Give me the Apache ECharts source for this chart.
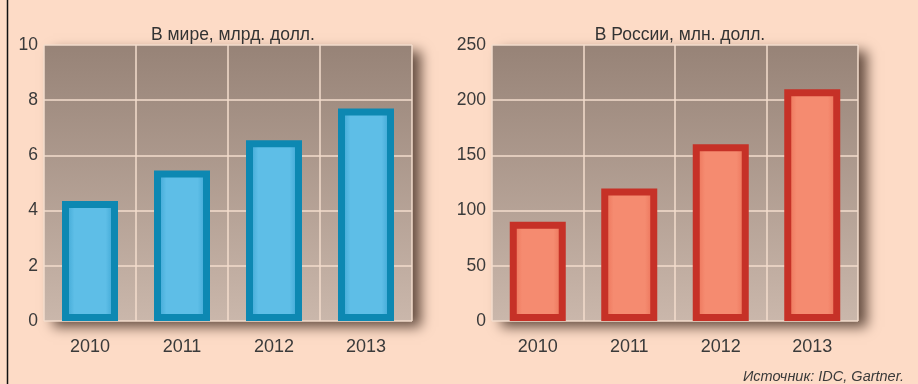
<!DOCTYPE html>
<html><head><meta charset="utf-8">
<script src="https://cdn.jsdelivr.net/npm/echarts@6/dist/echarts.min.js"></script>
<style>html,body{margin:0;padding:0;background:#fddbc6;}#c{width:918px;height:384px;}</style>
</head><body><div id="c"></div>
<script>
const years = ['2010', '2011', '2012', '2013'];
const worldValues = [4.35, 5.45, 6.55, 7.7];
const russiaValues = [90, 120, 160, 210];
const worldTicks = [0, 2, 4, 6, 8, 10];
const russiaTicks = [0, 50, 100, 150, 200, 250];
const worldTitle = 'В мире, млрд. долл.';
const russiaTitle = 'В России, млн. долл.';
const sourceText = 'Источник: IDC, Gartner.';

const chart = echarts.init(document.getElementById('c'));
const font = 'Liberation Sans';
const gridBg = new echarts.graphic.LinearGradient(0, 0, 0, 1, [
  {offset: 0, color: '#978377'}, {offset: 1, color: '#cab7ab'}]);
function grid(left, right) {
  return {left: left, right: right, top: 45, bottom: 63, show: true, borderWidth: 0,
    backgroundColor: gridBg, shadowBlur: 12, shadowColor: 'rgba(50,30,20,0.75)',
    shadowOffsetX: 9, shadowOffsetY: 6};
}
function xAxis(i) {
  return {type: 'category', gridIndex: i, data: years,
    axisLine: {show: false}, axisTick: {show: false},
    axisLabel: {color: '#3a3a3a', fontFamily: font, fontSize: 18, margin: 17},
    splitLine: {show: true, lineStyle: {color: '#f3dccd', width: 1.5}}};
}
function yAxis(i, ticks) {
  return {type: 'value', gridIndex: i, min: ticks[0], max: ticks[ticks.length - 1],
    interval: ticks[1] - ticks[0],
    axisLine: {show: false}, axisTick: {show: false},
    axisLabel: {color: '#3a3a3a', fontFamily: font, fontSize: 17.5, margin: 6},
    splitLine: {show: true, lineStyle: {color: '#f3dccd', width: 1.5}}};
}
function barFill(edge, mid) {
  return new echarts.graphic.LinearGradient(0, 0, 1, 0, [
    {offset: 0, color: edge}, {offset: 0.22, color: mid}, {offset: 0.78, color: mid}, {offset: 1, color: edge}]);
}
chart.setOption({
  backgroundColor: '#fddbc6',
  animation: false,
  title: [
    {text: worldTitle, left: 228, top: 21, textAlign: 'center',
      textStyle: {fontFamily: font, fontSize: 17.5, fontWeight: 'normal', color: '#333'}},
    {text: russiaTitle, left: 675, top: 21, textAlign: 'center',
      textStyle: {fontFamily: font, fontSize: 17.5, fontWeight: 'normal', color: '#333'}},
    {text: sourceText, right: 9, top: 364,
      textStyle: {fontFamily: font, fontSize: 14.5, fontStyle: 'italic', fontWeight: 'normal', color: '#3a3a3a'}}
  ],
  grid: [grid(44, 506), grid(492, 60)],
  xAxis: [xAxis(0), xAxis(1)],
  yAxis: [yAxis(0, worldTicks), yAxis(1, russiaTicks)],
  series: [
    {type: 'bar', xAxisIndex: 0, yAxisIndex: 0, data: worldValues, barWidth: 56,
      itemStyle: {color: barFill('#2f9ccb', '#5ebee7'), borderColor: '#0d88b2', borderWidth: 7}},
    {type: 'bar', xAxisIndex: 1, yAxisIndex: 1, data: russiaValues, barWidth: 56,
      itemStyle: {color: barFill('#e7684f', '#f58b70'), borderColor: '#c63127', borderWidth: 7}}
  ],
  graphic: [
    {type: 'line', shape: {x1: 7.5, y1: 0, x2: 7.5, y2: 384}, style: {stroke: '#111', lineWidth: 1.5}}
  ]
});
</script></body></html>
